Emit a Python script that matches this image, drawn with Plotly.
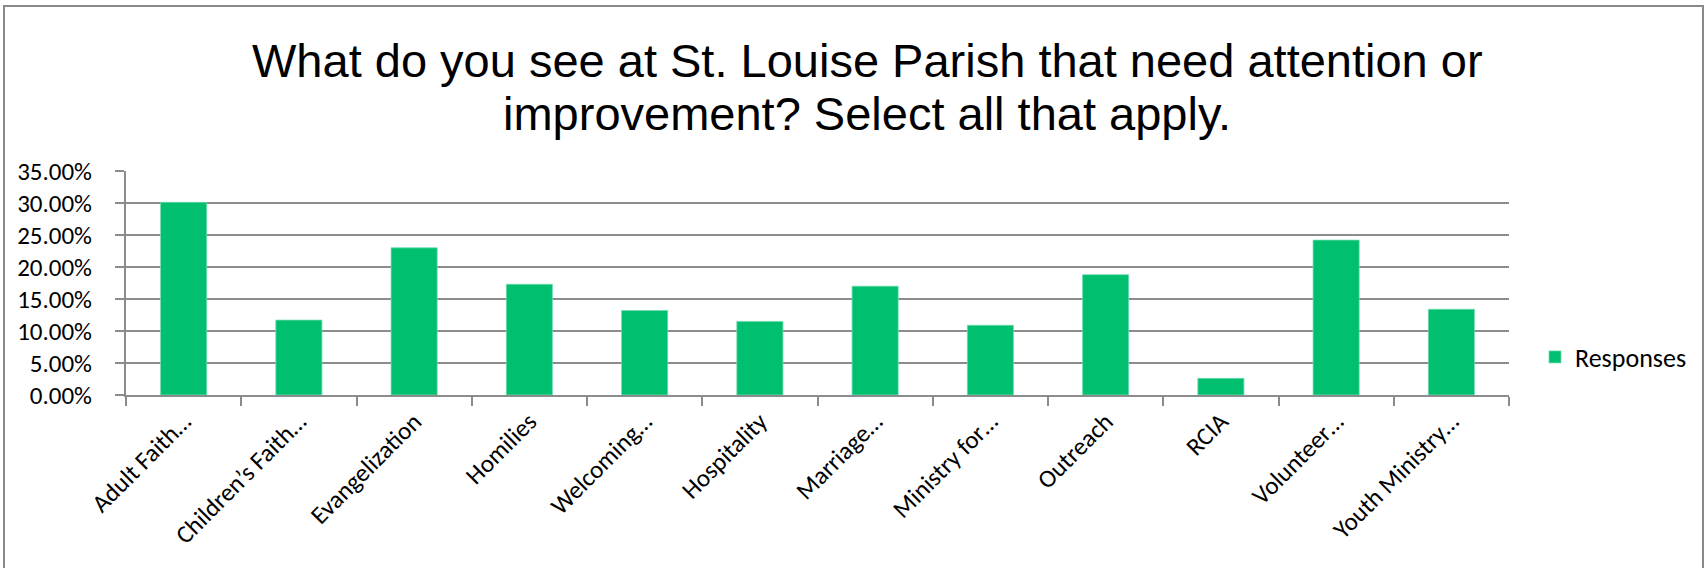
import plotly.graph_objects as go

# survey answers, share of respondents
categories = [
    "Adult Faith…", "Children’s Faith…", "Evangelization", "Homilies",
    "Welcoming…", "Hospitality", "Marriage…", "Ministry for…",
    "Outreach", "RCIA", "Volunteer…", "Youth Ministry…",
]
responses = [0.301, 0.117, 0.230, 0.173, 0.132, 0.115, 0.170, 0.109, 0.188, 0.026, 0.242, 0.134]
y_ticks = [0, 0.05, 0.10, 0.15, 0.20, 0.25, 0.30, 0.35]

title_lines = [
    "What do you see at St. Louise Parish that need attention or",
    "improvement? Select all that apply.",
]

GREEN = "#00BF6F"
GRID = "#8c8c8c"
BODY_FONT = "Carlito, Calibri, Lato, sans-serif"
TITLE_FONT = "Liberation Sans, Arial, sans-serif"

W, H = 1704, 568
L, R, T, B = 126, 195, 171, 173  # plot area 126..1509 x 171..395
pw, ph = W - L - R, H - T - B


def px_x(p):
    return (p - L) / pw


def px_y(q):
    return (H - B - q) / ph


fig = go.Figure(go.Bar(
    x=categories, y=responses, name="Responses",
    marker=dict(color=GREEN, line=dict(color="#6fdcae", width=0.8)),
))

# two title lines placed separately: Excel's line spacing is tighter than plotly's
title_ann = [
    dict(text=line, x=px_x(867), y=px_y(cy), xref="paper", yref="paper",
         xanchor="center", yanchor="middle", showarrow=False,
         font=dict(family=TITLE_FONT, size=47, color="#000"))
    for line, cy in zip(title_lines, [60, 113])
]

fig.update_layout(
    width=W, height=H,
    margin=dict(l=L, r=R, t=T, b=B, autoexpand=False),
    paper_bgcolor="white", plot_bgcolor="white",
    bargap=0.6,
    annotations=title_ann,
    xaxis=dict(
        automargin=False,
        tickangle=-45, tickson="boundaries", ticks="outside", ticklen=9,
        tickcolor=GRID, tickwidth=2,
        showline=True, linecolor=GRID, linewidth=2, showgrid=False,
        tickfont=dict(family=BODY_FONT, size=25, color="#000"),
    ),
    yaxis=dict(
        automargin=False,
        range=[0, 0.35], tickvals=y_ticks, tickformat=".2%",
        ticks="outside", ticklen=9, tickcolor=GRID, tickwidth=2,
        ticklabelstandoff=18,
        showline=True, linecolor=GRID, linewidth=2,
        gridcolor=GRID, gridwidth=2, zeroline=False,
        tickfont=dict(family=BODY_FONT, size=25, color="#000"),
    ),
    showlegend=True,
    legend=dict(
        x=px_x(1535), y=px_y(357), xanchor="left", yanchor="middle",
        font=dict(family=BODY_FONT, size=26, color="#000"),
        bgcolor="rgba(0,0,0,0)",
    ),
    shapes=[dict(
        type="rect", xref="paper", yref="paper",
        x0=px_x(4), x1=px_x(1703), y0=px_y(590), y1=px_y(6),
        line=dict(color="#8a8a8a", width=2), layer="below",
    )],
)

fig.write_html("out.html", config={"displayModeBar": False},
               post_script="document.body.style.margin='0';")
